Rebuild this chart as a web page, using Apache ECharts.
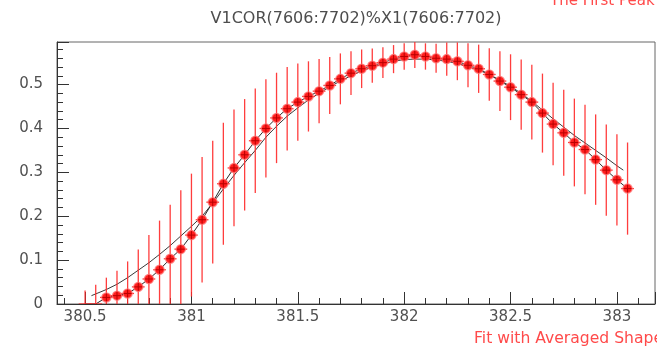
<!DOCTYPE html>
<html>
<head>
<meta charset="utf-8">
<script src="https://cdn.jsdelivr.net/npm/echarts@6/dist/echarts.min.js"></script>
<style>
  html, body { margin: 0; padding: 0; background: #fff; }
  #chart { width: 657px; height: 350px; }
</style>
</head>
<body>
<div id="chart"></div>
<script>
// measured points (x, value, error)
const xVals = [
  380.50, 380.55, 380.60, 380.65, 380.70, 380.75, 380.80, 380.85, 380.90, 380.95,
  381.00, 381.05, 381.10, 381.15, 381.20, 381.25, 381.30, 381.35, 381.40, 381.45,
  381.50, 381.55, 381.60, 381.65, 381.70, 381.75, 381.80, 381.85, 381.90, 381.95,
  382.00, 382.05, 382.10, 382.15, 382.20, 382.25, 382.30, 382.35, 382.40, 382.45,
  382.50, 382.55, 382.60, 382.65, 382.70, 382.75, 382.80, 382.85, 382.90, 382.95,
  383.00, 383.05
];
const yVals = [
  0, 0, 0.015, 0.019, 0.024, 0.039, 0.057, 0.078, 0.103, 0.125,
  0.157, 0.192, 0.232, 0.274, 0.310, 0.340, 0.372, 0.400, 0.424, 0.445,
  0.460, 0.473, 0.485, 0.498, 0.513, 0.526, 0.536, 0.543, 0.550, 0.558,
  0.564, 0.568, 0.564, 0.560, 0.558, 0.553, 0.544, 0.536, 0.523, 0.508,
  0.494, 0.477, 0.460, 0.435, 0.410, 0.390, 0.368, 0.352, 0.329, 0.305,
  0.283, 0.263
];
const yErr = [
  0.031, 0.044, 0.045, 0.057, 0.073, 0.085, 0.100, 0.112, 0.123, 0.134,
  0.140, 0.143, 0.140, 0.139, 0.133, 0.127, 0.119, 0.112, 0.103, 0.095,
  0.088, 0.080, 0.073, 0.065, 0.058, 0.050, 0.044, 0.039, 0.035, 0.032,
  0.030, 0.030, 0.030, 0.033, 0.038, 0.043, 0.050, 0.055, 0.060, 0.068,
  0.075, 0.080, 0.085, 0.090, 0.094, 0.098, 0.100, 0.102, 0.103, 0.104,
  0.104, 0.105
];
const xErr = 0.03;

// fit with averaged shape
const fitX = [
  380.53, 380.60, 380.65, 380.70, 380.75, 380.80, 380.85, 380.90, 380.95,
  381.00, 381.05, 381.10, 381.15, 381.20, 381.25, 381.30, 381.35, 381.40, 381.45,
  381.50, 381.55, 381.60, 381.65, 381.70, 381.75, 381.80, 381.85, 381.90, 381.95,
  382.00, 382.05, 382.10, 382.15, 382.20, 382.25, 382.30, 382.35, 382.40, 382.45,
  382.50, 382.55, 382.60, 382.65, 382.70, 382.75, 382.80, 382.85, 382.90, 382.95,
  383.00, 383.03
];
const fitY = [
  0.019, 0.033, 0.045, 0.060, 0.077, 0.094, 0.113, 0.133, 0.155,
  0.177, 0.200, 0.230, 0.262, 0.293, 0.322, 0.350, 0.380, 0.405, 0.428,
  0.447, 0.465, 0.480, 0.495, 0.508, 0.520, 0.531, 0.540, 0.547, 0.553,
  0.557, 0.558, 0.558, 0.556, 0.553, 0.548, 0.541, 0.533, 0.523, 0.510,
  0.496, 0.480, 0.462, 0.442, 0.422, 0.403, 0.384, 0.367, 0.350, 0.333,
  0.315, 0.305
];

const titleText = "V1COR(7606:7702)%X1(7606:7702)";
const topNote = "The First Peak";
const bottomNote = "Fit with Averaged Shape";

const font = "DejaVu Sans";
const chart = echarts.init(document.getElementById("chart"), null, { renderer: "canvas" });

const points = xVals.map((x, i) => [x, yVals[i], yErr[i]]);
const fitLine = fitX.map((x, i) => [x, fitY[i]]);
const dataLine = xVals.map((x, i) => [x, yVals[i]]);

const options = {
  animation: false,
  backgroundColor: "#fff",
  title: [
    {
      text: titleText, left: 356, top: 11, textAlign: "center", padding: 0,
      textStyle: { fontFamily: font, fontSize: 16, fontWeight: "normal", color: "#4d4d4d" }
    },
    {
      text: topNote, left: 550, top: -6, padding: 0,
      textStyle: { fontFamily: font, fontSize: 15, fontWeight: "normal", color: "#ff4a4a" }
    },
    {
      text: bottomNote, left: 474, top: 331, padding: 0,
      textStyle: { fontFamily: font, fontSize: 15.6, fontWeight: "normal", color: "#ff4a4a" }
    }
  ],
  grid: {
    show: true,
    left: 57, top: 42, width: 598, height: 262,
    borderColor: "#666", borderWidth: 1,
    containLabel: false
  },
  xAxis: {
    type: "value",
    min: 380.368,
    max: 383.179,
    splitNumber: 5,
    axisLine: { show: true, lineStyle: { color: "#333", width: 1 } },
    axisTick: { show: true, inside: true, length: 12, lineStyle: { color: "#333" } },
    minorTick: { show: true, splitNumber: 5, length: 6, lineStyle: { color: "#333" } },
    splitLine: { show: false },
    axisLabel: {
      margin: 6,
      fontFamily: font, fontSize: 15, color: "#505050",
      showMinLabel: false, showMaxLabel: false,
      formatter: (v) => Math.abs(v * 2 - Math.round(v * 2)) < 1e-6 ? String(+v.toFixed(1)) : ""
    }
  },
  yAxis: {
    type: "value",
    min: 0,
    max: 0.597,
    splitNumber: 5,
    axisLine: { show: true, lineStyle: { color: "#333", width: 1 } },
    axisTick: { show: true, inside: true, length: 12, lineStyle: { color: "#333" } },
    minorTick: { show: true, splitNumber: 5, length: 6, lineStyle: { color: "#333" } },
    splitLine: { show: false },
    axisLabel: {
      margin: 14,
      fontFamily: font, fontSize: 15, color: "#505050",
      showMaxLabel: false,
      formatter: (v) => Math.abs(v * 10 - Math.round(v * 10)) < 1e-6 ? String(+v.toFixed(1)) : ""
    }
  },
  series: [
    {
      type: "line",
      data: fitLine,
      showSymbol: false,
      lineStyle: { color: "#3a3a3a", width: 1 },
      z: 2
    },
    {
      type: "line",
      data: dataLine,
      showSymbol: false,
      lineStyle: { color: "#2a2a2a", width: 1 },
      z: 2
    },
    {
      type: "custom",
      clip: true,
      data: points,
      encode: { x: 0, y: 1 },
      z: 3,
      renderItem: function (params, api) {
        const x = api.value(0), y = api.value(1), e = api.value(2);
        const c = api.coord([x, y]);
        const top = api.coord([x, y + e]);
        const bot = api.coord([x, y - e]);
        const l = api.coord([x - xErr, y]);
        const r = api.coord([x + xErr, y]);
        const bar = "rgba(255,40,40,0.9)";
        const children = [
          { type: "line", shape: { x1: c[0], y1: top[1], x2: c[0], y2: bot[1] }, style: { stroke: bar, lineWidth: 1.3 } },
          { type: "line", shape: { x1: l[0], y1: c[1], x2: r[0], y2: c[1] }, style: { stroke: bar, lineWidth: 1.3 } }
        ];
        if (y > 0) {
          children.push(
            { type: "circle", shape: { cx: c[0], cy: c[1], r: 4.5 }, style: { fill: "#ff1e1e", stroke: "rgba(255,110,110,0.7)", lineWidth: 1.5 } },
            { type: "line", shape: { x1: c[0], y1: c[1] - 4, x2: c[0], y2: c[1] + 4 }, style: { stroke: "#b80000", lineWidth: 1 } },
            { type: "line", shape: { x1: c[0] - 4, y1: c[1], x2: c[0] + 4, y2: c[1] }, style: { stroke: "#b80000", lineWidth: 1 } }
          );
        }
        return { type: "group", children: children };
      }
    }
  ]
};

chart.setOption(options);
</script>
</body>
</html>
